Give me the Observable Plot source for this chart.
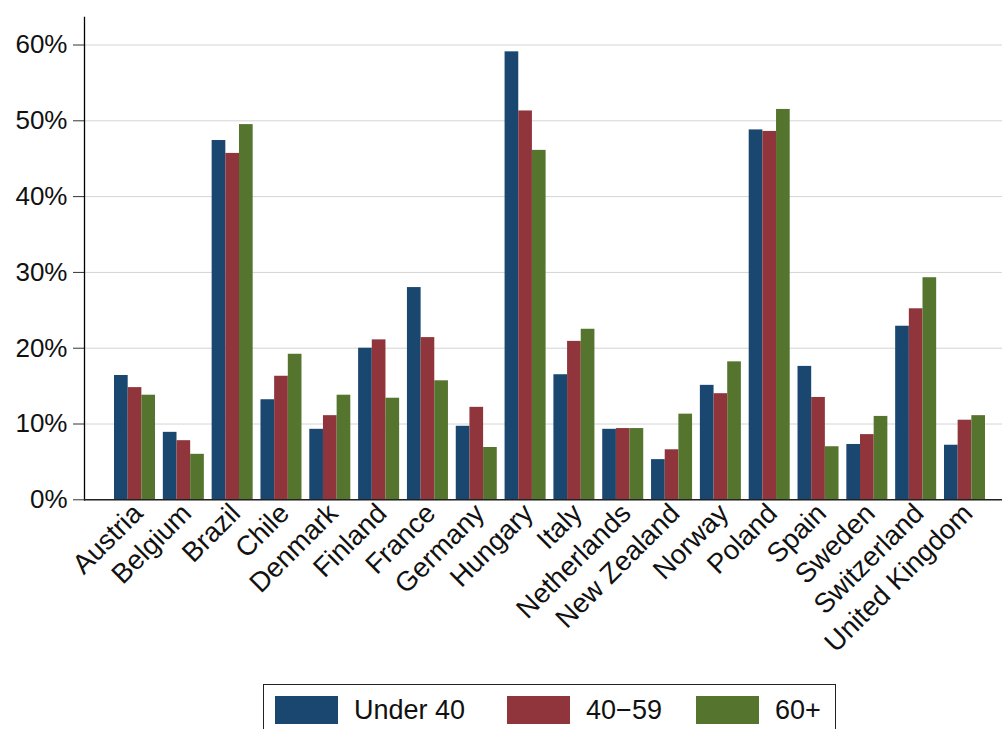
<!DOCTYPE html>
<html>
<head>
<meta charset="utf-8">
<script src="https://cdn.jsdelivr.net/npm/d3@7"></script>
<script src="https://cdn.jsdelivr.net/npm/@observablehq/plot@0.6"></script>
<style>
  html, body { margin: 0; padding: 0; background: #fff; }
  body { width: 1002px; height: 729px; overflow: hidden; position: relative; font-family: "Liberation Sans", Arial, Helvetica, sans-serif; }
  #legend { position: absolute; left: 263px; top: 684px; width: 573px; height: 52px; border: 1.5px solid #222; box-sizing: border-box; display: flex; align-items: center; }
  .item { display: flex; align-items: center; font-size: 27px; color: #111; }
  .sw { width: 63px; height: 28px; margin-right: 16px; }
</style>
</head>
<body>
<div id="chart"></div>
<div id="legend"></div>
<script>
const countries = ["Austria", "Belgium", "Brazil", "Chile", "Denmark", "Finland", "France", "Germany", "Hungary", "Italy", "Netherlands", "New Zealand", "Norway", "Poland", "Spain", "Sweden", "Switzerland", "United Kingdom"];
const seriesNames = ["Under 40", "40\u221259", "60+"];
const seriesColors = ["#1a476f", "#90353b", "#55752f"];
const under40   = [16.4, 8.9, 47.4, 13.2, 9.3, 20.0, 28.0, 9.7, 59.1, 16.5, 9.3, 5.3, 15.1, 48.8, 17.6, 7.3, 22.9, 7.2];
const age40to59 = [14.8, 7.8, 45.7, 16.3, 11.1, 21.1, 21.4, 12.2, 51.3, 20.9, 9.4, 6.6, 14.0, 48.6, 13.5, 8.6, 25.2, 10.5];
const age60plus = [13.8, 6.0, 49.5, 19.2, 13.8, 13.4, 15.7, 6.9, 46.1, 22.5, 9.4, 11.3, 18.2, 51.5, 7.0, 11.0, 29.3, 11.1];
const yTicks = [0, 10, 20, 30, 40, 50, 60];

const seriesValues = [under40, age40to59, age60plus];
const rows = seriesValues.map((vals, s) => countries.map((c, i) => ({country: c, series: seriesNames[s], value: vals[i]})));

const third = 41 / 3;
const insets = [[0, 2 * third], [third, third], [2 * third, 0]];

const chart = Plot.plot({
  width: 1002,
  height: 684,
  marginLeft: 84,
  marginRight: 0,
  marginTop: 17,
  marginBottom: 184.7,
  style: {fontFamily: "'Liberation Sans', Arial, Helvetica, sans-serif", fontSize: "26px", color: "#111", background: "#fff"},
  x: {type: "band", domain: countries, range: [110.1, 988.9], paddingInner: 0.16, paddingOuter: 0.08, round: false},
  y: {domain: [0, 63.63]},
  marks: [
    Plot.ruleY(yTicks, {stroke: "#d4d4d4", strokeWidth: 1}),
    ...rows.map((data, s) => Plot.barY(data, {
      x: "country", y: "value", fill: seriesColors[s],
      insetLeft: insets[s][0], insetRight: insets[s][1]
    })),
    Plot.axisY({ticks: yTicks, tickFormat: d => d + "%", tickSize: 11, tickPadding: 6, fontSize: 26, stroke: "#333", label: null}),
    Plot.axisX({tickRotate: -45, tickSize: 0, tickPadding: 9, fontSize: 27.5, dx: 3, label: null}),
    Plot.frame({anchor: "left", stroke: "#000", strokeWidth: 1.3}),
    Plot.ruleY([0], {stroke: "#222", strokeWidth: 1.6})
  ]
});
document.getElementById("chart").appendChild(chart);

const legend = document.getElementById("legend");
const gaps = [11, 42, 34];
seriesNames.forEach((name, s) => {
  const item = document.createElement("div");
  item.className = "item";
  item.style.marginLeft = gaps[s] + "px";
  const sw = document.createElement("div");
  sw.className = "sw";
  sw.style.background = seriesColors[s];
  const t = document.createElement("span");
  t.textContent = name;
  item.appendChild(sw);
  item.appendChild(t);
  legend.appendChild(item);
});
</script>
</body>
</html>
